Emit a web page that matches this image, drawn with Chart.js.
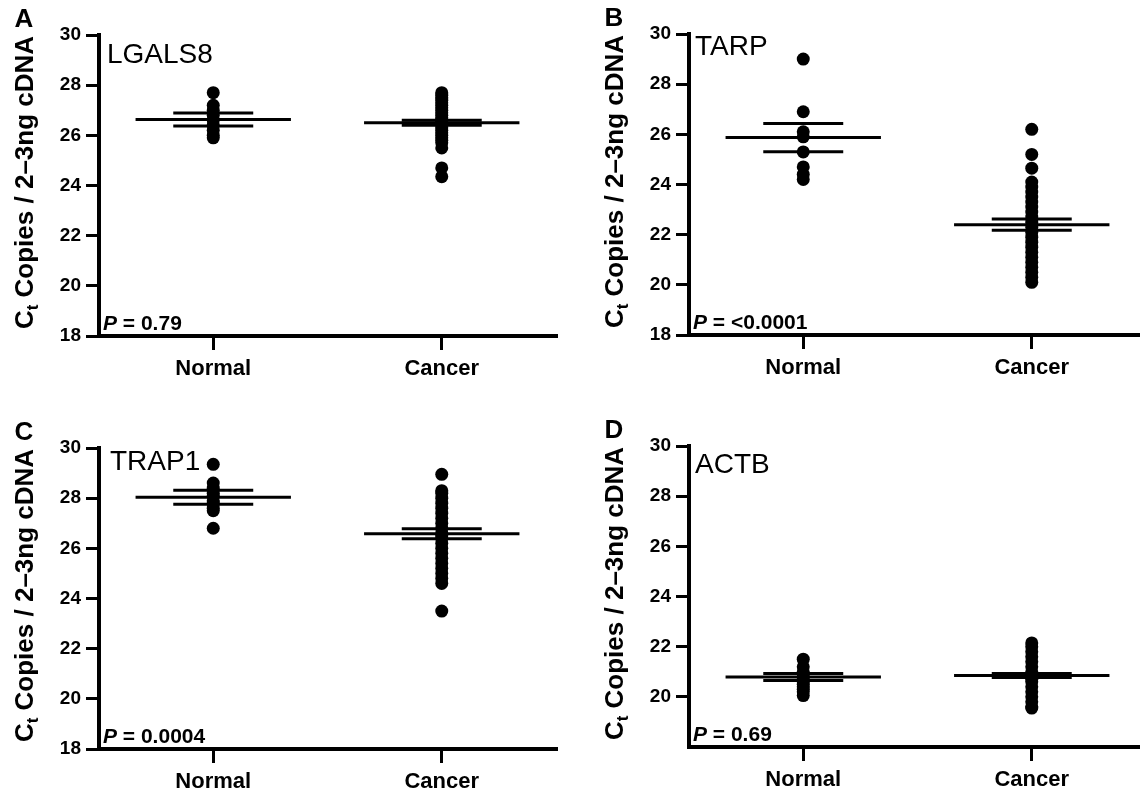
<!DOCTYPE html>
<html>
<head>
<meta charset="utf-8">
<title>Ct values: normal vs cancer</title>
<script src="https://cdn.jsdelivr.net/npm/chart.js@4.4.1/dist/chart.umd.min.js"></script>
<style>
  html, body { margin: 0; padding: 0; background: #fff; }
  body { width: 1140px; height: 790px; position: relative; overflow: hidden; }
  canvas { position: absolute; }
</style>
</head>
<body>
<canvas id="panelA" width="580" height="395" style="left:0px;top:0px"></canvas>
<canvas id="panelB" width="580" height="395" style="left:590px;top:-1px"></canvas>
<canvas id="panelC" width="580" height="395" style="left:0px;top:413px"></canvas>
<canvas id="panelD" width="580" height="395" style="left:590px;top:411px"></canvas>
<script>
// data
const groups = ["Normal", "Cancer"];
const yTicks = [18, 20, 22, 24, 26, 28, 30];

// A - LGALS8
const lgals8Normal = [27.7, 27.2, 27.0, 26.8, 26.6, 26.4, 26.2, 26.0, 25.9];
const lgals8Cancer = [27.7, 27.6, 27.5, 27.4, 27.3, 27.2, 27.1, 27.0, 26.9, 26.8, 26.7, 26.6, 26.6, 26.5, 26.5, 26.4, 26.3, 26.2, 26.1, 26.0, 25.9, 25.8, 25.7, 25.5, 24.7, 24.35];
const lgals8Mean = [26.63, 26.5];
const lgals8Sem = [0.26, 0.1];

// B - TARP
const tarpNormal = [29.0, 26.9, 26.1, 25.9, 25.3, 24.7, 24.4, 24.2];
const tarpCancer = [26.2, 25.2, 24.65, 24.1, 23.9, 23.7, 23.5, 23.3, 23.1, 22.9, 22.7, 22.5, 22.3, 22.1, 21.9, 21.7, 21.5, 21.3, 21.1, 20.9, 20.7, 20.5, 20.3, 20.1];
const tarpMean = [25.87, 22.4];
const tarpSem = [0.56, 0.22];

// C - TRAP1
const trap1Normal = [29.35, 28.6, 28.4, 28.2, 28.1, 27.9, 27.8, 27.6, 27.5, 26.8];
const trap1Cancer = [28.95, 28.3, 28.2, 28.0, 27.8, 27.6, 27.4, 27.2, 27.0, 26.8, 26.6, 26.5, 26.4, 26.2, 26.0, 25.8, 25.6, 25.4, 25.2, 25.0, 24.8, 24.6, 23.5];
const trap1Mean = [28.04, 26.58];
const trap1Sem = [0.28, 0.2];

// D - ACTB
const actbNormal = [21.5, 21.2, 21.0, 20.9, 20.8, 20.7, 20.6, 20.5, 20.4, 20.3, 20.2, 20.05];
const actbCancer = [22.15, 22.0, 21.8, 21.6, 21.4, 21.2, 21.0, 20.9, 20.8, 20.7, 20.6, 20.4, 20.2, 20.0, 19.8, 19.6, 19.55];
const actbMean = [20.79, 20.85];
const actbSem = [0.14, 0.08];

const panels = [
  { id: "panelA", letter: "A", gene: "LGALS8", p: "0.79", normal: lgals8Normal, cancer: lgals8Cancer, mean: lgals8Mean, sem: lgals8Sem, yFrom: 18, geneDx: 8, geneDy: 6 },
  { id: "panelB", letter: "B", gene: "TARP", p: "<0.0001", normal: tarpNormal, cancer: tarpCancer, mean: tarpMean, sem: tarpSem, yFrom: 18, geneDx: 6, geneDy: -1 },
  { id: "panelC", letter: "C", gene: "TRAP1", p: "0.0004", normal: trap1Normal, cancer: trap1Cancer, mean: trap1Mean, sem: trap1Sem, yFrom: 18, geneDx: 11, geneDy: 0 },
  { id: "panelD", letter: "D", gene: "ACTB", p: "0.69", normal: actbNormal, cancer: actbCancer, mean: actbMean, sem: actbSem, yFrom: 20, geneDx: 6, geneDy: 5 }
];

const FONT = '"Liberation Sans", Arial, sans-serif';
Chart.defaults.font.family = FONT;
Chart.defaults.color = "#000";

const meanHalf = 0.34;  // half length of the mean bar, in category units
const semHalf = 0.175;

// panel letter, gene name, P value and rotated y title
const panelText = {
  id: "panelText",
  afterDraw(chart, args, opts) {
    const ctx = chart.ctx;
    const a = chart.chartArea;
    const tx = a.left - 75;
    ctx.save();
    ctx.fillStyle = "#000";

    ctx.font = "bold 26px " + FONT;
    ctx.textAlign = "center";
    ctx.textBaseline = "middle";
    ctx.fillText(opts.letter, tx, a.top - 15);

    ctx.font = "28px " + FONT;
    ctx.textAlign = "left";
    ctx.textBaseline = "top";
    ctx.fillText(opts.gene, a.left + opts.geneDx, a.top + opts.geneDy);

    ctx.textBaseline = "alphabetic";
    ctx.font = "italic bold 21px " + FONT;
    ctx.fillText("P", a.left + 4, a.bottom - 6);
    const pw = ctx.measureText("P").width;
    ctx.font = "bold 21px " + FONT;
    ctx.fillText(" = " + opts.p, a.left + 4 + pw, a.bottom - 6);

    // y axis title, C with subscript t
    ctx.translate(tx, (a.top + a.bottom) / 2 - 3);
    ctx.rotate(-Math.PI / 2);
    const big = "bold 26px " + FONT, small = "bold 17px " + FONT;
    const rest = " Copies / 2\u20133ng cDNA";
    ctx.font = big;
    const wC = ctx.measureText("C").width, wR = ctx.measureText(rest).width;
    ctx.font = small;
    const wt = ctx.measureText("t").width;
    let x = -(wC + wt + wR) / 2;
    ctx.font = big;
    ctx.fillText("C", x, 9);
    x += wC;
    ctx.font = small;
    ctx.fillText("t", x, 14);
    x += wt;
    ctx.font = big;
    ctx.fillText(rest, x, 9);
    ctx.restore();
  }
};

function hbar(cx, half, y) {
  return [{ x: cx - half, y: y }, { x: cx + half, y: y }];
}

function makePanel(pn) {
  const datasets = [];
  const cols = [pn.normal, pn.cancer];
  cols.forEach(function (vals, i) {
    const cx = i + 1;
    datasets.push({ data: hbar(cx, meanHalf, pn.mean[i]), showLine: true, borderColor: "#000", borderWidth: 3, pointRadius: 0 });
    datasets.push({ data: hbar(cx, semHalf, pn.mean[i] + pn.sem[i]), showLine: true, borderColor: "#000", borderWidth: 3, pointRadius: 0 });
    datasets.push({ data: hbar(cx, semHalf, pn.mean[i] - pn.sem[i]), showLine: true, borderColor: "#000", borderWidth: 3, pointRadius: 0 });
    datasets.push({
      data: vals.map(function (v) { return { x: cx, y: v }; }),
      pointRadius: 6.5, pointBackgroundColor: "#000", pointBorderWidth: 0, showLine: false
    });
  });

  new Chart(pn.id, {
    type: "scatter",
    data: { datasets: datasets },
    options: {
      responsive: false,
      animation: false,
      devicePixelRatio: 1,
      events: [],
      clip: false,
      layout: { padding: { top: 35, right: 24, bottom: 0, left: 0 } },
      plugins: {
        legend: { display: false },
        tooltip: { enabled: false },
        panelText: { letter: pn.letter, gene: pn.gene, p: pn.p, geneDx: pn.geneDx, geneDy: pn.geneDy }
      },
      scales: {
        x: {
          type: "linear",
          min: 0.5,
          max: 2.5,
          afterBuildTicks: function (axis) {
            axis.ticks = groups.map(function (g, i) { return { value: i + 1 }; });
          },
          afterFit: function (axis) { axis.height = 59; },
          ticks: {
            callback: function (v) { return groups[v - 1] || ""; },
            font: { size: 22, weight: "bold" },
            padding: 6,
            maxRotation: 0
          },
          grid: { drawOnChartArea: false, color: "#000", lineWidth: 3, tickLength: 14 },
          border: { display: true, color: "#000", width: 4 }
        },
        y: {
          min: 18,
          max: 30,
          afterBuildTicks: function (axis) {
            axis.ticks = yTicks.filter(function (v) { return v >= pn.yFrom; }).map(function (v) { return { value: v }; });
          },
          afterFit: function (axis) { axis.width = 99; },
          ticks: { font: { size: 19, weight: "bold" }, padding: 5 },
          grid: { drawOnChartArea: false, color: "#000", lineWidth: 3, tickLength: 13 },
          border: { display: true, color: "#000", width: 4 }
        }
      }
    },
    plugins: [panelText]
  });
}

panels.forEach(makePanel);
</script>
</body>
</html>
